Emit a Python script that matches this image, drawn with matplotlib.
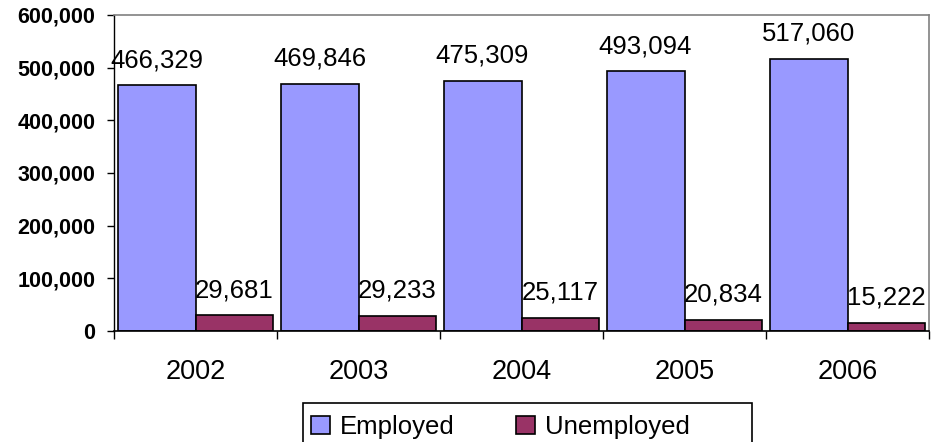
import matplotlib
matplotlib.use("Agg")
import matplotlib.pyplot as plt
import numpy as np
from matplotlib.patches import Rectangle
from matplotlib.ticker import FuncFormatter, FixedLocator

plt.rcParams['font.family'] = ['Liberation Sans', 'DejaVu Sans']

years = ["2002", "2003", "2004", "2005", "2006"]
employed = [466329, 469846, 475309, 493094, 517060]
unemployed = [29681, 29233, 25117, 20834, 15222]
series_names = ["Employed", "Unemployed"]

W, H = 942, 442
fig = plt.figure(figsize=(W / 100, H / 100), dpi=100)
ax = fig.add_axes([114 / W, 1 - 331 / H, (929 - 114) / W, (331 - 15) / H])

x = np.arange(len(years))
bw = 0.478
b1 = ax.bar(x - bw / 2, employed, bw, color="#9999FF", edgecolor="black",
            linewidth=1.2, label=series_names[0], zorder=2)
b2 = ax.bar(x + bw / 2, unemployed, bw, color="#993366", edgecolor="black",
            linewidth=1.2, label=series_names[1], zorder=2)

for bars, vals in ((b1, employed), (b2, unemployed)):
    for rect, v in zip(bars, vals):
        ax.annotate(f"{v:,}", (rect.get_x() + rect.get_width() / 2, v),
                    xytext=(0, 13), textcoords="offset points",
                    ha="center", va="baseline", fontsize=18.5)

ax.set_xlim(-0.5, len(years) - 0.5)
ax.set_ylim(0, 600000)
ax.set_yticks(np.arange(0, 600001, 100000))
ax.yaxis.set_major_formatter(FuncFormatter(lambda v, p: f"{int(v):,}"))
for lbl in ax.get_yticklabels():
    lbl.set_fontweight("bold")
ax.tick_params(axis="y", direction="out", length=5, width=1, pad=8.5,
               labelsize=15.5, color="black")

ax.set_xticks(x)
ax.set_xticklabels(years)
ax.tick_params(axis="x", which="major", length=0, pad=20, labelsize=19.5)
ax.xaxis.set_minor_locator(FixedLocator(np.arange(-0.5, len(years), 1.0)))
ax.tick_params(axis="x", which="minor", direction="out", length=6, width=1,
               color="black")

for side in ("top", "right"):
    ax.spines[side].set_color("#808080")
    ax.spines[side].set_linewidth(1.2)
ax.spines["left"].set_color("black")
ax.spines["bottom"].set_color("black")
ax.spines["left"].set_linewidth(1.0)
ax.spines["bottom"].set_linewidth(1.2)

# legend frame and entries
fig.patches.append(Rectangle((303 / W, 1 - 460 / H), (752 - 303) / W, (460 - 403) / H,
                             transform=fig.transFigure, fill=False,
                             edgecolor="black", linewidth=1.2))
fig.legend(handles=[b1, b2], labels=series_names, loc="upper left",
           bbox_to_anchor=(311 / W, 1 - 415 / H), ncol=2, frameon=False,
           fontsize=18.5, handlelength=0.72, handleheight=0.72,
           handletextpad=0.4, columnspacing=2.4, borderpad=0, borderaxespad=0)

fig.savefig("out.png", dpi=100)
